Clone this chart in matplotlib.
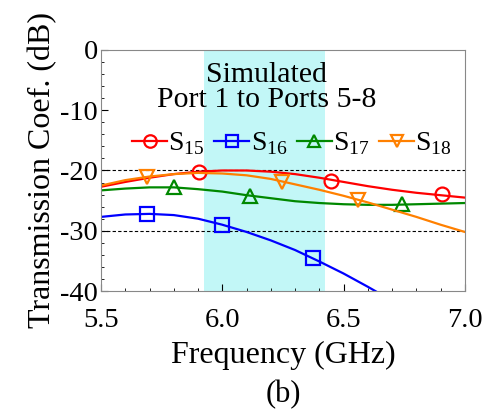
import matplotlib
matplotlib.use("Agg")
import matplotlib.pyplot as plt
from matplotlib.ticker import MultipleLocator

plt.rcParams['font.family'] = ['Liberation Serif', 'DejaVu Serif']
plt.rcParams['mathtext.fontset'] = 'custom'
plt.rcParams['mathtext.rm'] = 'Liberation Serif'
plt.rcParams['axes.unicode_minus'] = False

# curves every 0.1 GHz
freq = [5.5, 5.6, 5.7, 5.8, 5.9, 6.0, 6.1, 6.2, 6.3, 6.4, 6.5, 6.6, 6.7, 6.8, 6.9, 7.0]
s15 = [-22.7, -21.9, -21.2, -20.6, -20.2, -20.0, -20.0, -20.2, -20.6, -21.2, -21.9, -22.6, -23.2, -23.7, -24.1, -24.5]
s16 = [-27.7, -27.3, -27.2, -27.4, -28.0, -29.0, -30.2, -31.6, -33.2, -35.1, -37.1, -39.3, -41.6, -44.0, -46.5, -49.0]
s17 = [-23.3, -23.0, -22.8, -22.8, -23.1, -23.5, -24.1, -24.6, -25.1, -25.4, -25.6, -25.7, -25.7, -25.6, -25.5, -25.4]
s18 = [-22.5, -21.6, -21.0, -20.6, -20.4, -20.5, -20.8, -21.4, -22.3, -23.2, -24.2, -25.3, -26.5, -27.7, -29.0, -30.2]

# marker positions
m15_f = [5.905, 6.45, 6.905]
m15_v = [-20.2, -21.7, -23.9]
m16_f = [5.69, 6.0, 6.375]
m16_v = [-27.2, -29.0, -34.6]
m17_f = [5.80, 6.115, 6.74]
m17_v = [-22.8, -24.2, -25.6]
m18_f = [5.69, 6.245, 6.56]
m18_v = [-21.0, -21.9, -24.9]

band = (5.925, 6.425)

fig = plt.figure(figsize=(4.94, 4.09), dpi=100)
ax = fig.add_axes([0.2045, 0.2885, 0.7365, 0.5893])

ax.axvspan(band[0], band[1], color='#c2f7f7', lw=0, zorder=0)
ax.axhline(-20, color='black', ls='--', lw=0.8, dashes=(3, 2))
ax.axhline(-30, color='black', ls='--', lw=0.8, dashes=(3, 2))

series = [
    (s15, m15_f, m15_v, '#ff0000', 'o', r'S$_{\mathrm{15}}$'),
    (s16, m16_f, m16_v, '#0000ff', 's', r'S$_{\mathrm{16}}$'),
    (s17, m17_f, m17_v, '#008800', '^', r'S$_{\mathrm{17}}$'),
    (s18, m18_f, m18_v, '#ff8000', 'v', r'S$_{\mathrm{18}}$'),
]
for vals, mf, mv, c, mk, lab in series:
    ax.plot(freq, vals, color=c, lw=1.6)
    ax.plot(mf, mv, ls='none', marker=mk, ms=10, mfc='none', mec=c, mew=1.6)
    ax.plot([], [], color=c, lw=1.6, marker=mk, ms=9, mfc='none', mec=c, mew=1.6, label=lab)

ax.set_xlim(5.5, 7.0)
ax.set_ylim(-40, 0)
ax.set_xticks([5.5, 6.0, 6.5, 7.0])
ax.set_xticklabels(['5.5', '6.0', '6.5', '7.0'])
ax.set_yticks([0, -10, -20, -30, -40])
ax.xaxis.set_minor_locator(MultipleLocator(0.1))
ax.yaxis.set_minor_locator(MultipleLocator(2))
ax.tick_params(which='both', direction='in', top=False, right=False, labelsize=20.5)
ax.tick_params(axis='x', pad=12)
ax.tick_params(axis='y', pad=2)
ax.tick_params(which='major', length=5)
ax.tick_params(which='minor', length=2.5)
for sp in ax.spines.values():
    sp.set_color('#888888')

ax.text(6.183, -6.3, 'Simulated\nPort 1 to Ports 5-8', ha='center', va='center',
        fontsize=21.5, linespacing=0.95)
ax.legend(loc='center', bbox_to_anchor=(0.525, 0.61), ncol=4, frameon=False,
          fontsize=20, handlelength=1.25, handletextpad=0.05, columnspacing=0.35,
          borderaxespad=0, borderpad=0)

ax.set_xlabel('Frequency (GHz)', fontsize=23, labelpad=6)
ax.set_ylabel('Transmission Coef. (dB)', fontsize=23, labelpad=2)
fig.text(0.5735, 0.036, '(b)', ha='center', va='center', fontsize=22)

fig.savefig('out.png', dpi=100)
